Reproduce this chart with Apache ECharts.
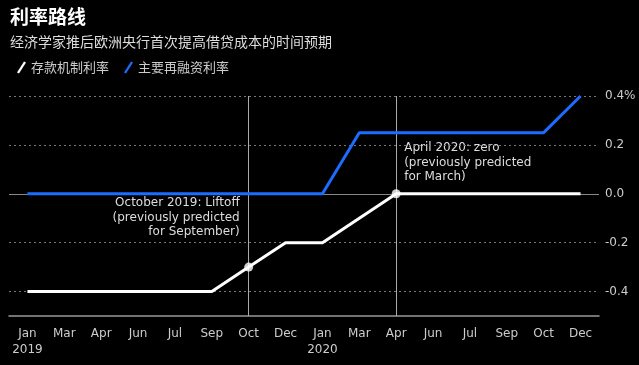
<!DOCTYPE html>
<html>
<head>
<meta charset="utf-8">
<script src="https://cdn.jsdelivr.net/npm/echarts@6/dist/echarts.min.js"></script>
<style>
html,body{margin:0;padding:0;background:#000;}
#c{width:639px;height:365px;}
</style>
</head>
<body>
<div id="c"></div>
<script>
const categories = ['Jan\n2019','Mar','Apr','Jun','Jul','Sep','Oct','Dec','Jan\n2020','Mar','Apr','Jun','Jul','Sep','Oct','Dec'];
const depositRate = [-0.4,-0.4,-0.4,-0.4,-0.4,-0.4,-0.3,-0.2,-0.2,-0.1,0,0,0,0,0,0];
const refiRate = [0,0,0,0,0,0,0,0,0,0.25,0.25,0.25,0.25,0.25,0.25,0.4];
const yTicks = [-0.4,-0.2,0,0.2,0.4];
const highlightIdx = [6,10];
const annoOct = 'October 2019: Liftoff\n(previously predicted\nfor September)';
const annoApr = 'April 2020: zero\n(previously predicted\nfor March)';

const latin = '"DejaVu Sans", "Noto Sans CJK SC", sans-serif';
const cjk = '"Noto Sans CJK SC", sans-serif';

const chart = echarts.init(document.getElementById('c'));
const option = {
  backgroundColor: '#000',
  animation: false,
  title: [
    {text: '利率路线', left: 10, top: 7, padding: 0, textStyle: {color: '#fff', fontSize: 19, fontWeight: 'bold', fontFamily: cjk}},
    {text: '经济学家推后欧洲央行首次提高借贷成本的时间预期', left: 10, top: 35, padding: 0, textStyle: {color: '#ddd', fontSize: 14, fontWeight: 'normal', fontFamily: cjk}}
  ],
  legend: {
    left: 17, top: 61, padding: 0, itemWidth: 9, itemHeight: 12, itemGap: 15,
    textStyle: {color: '#ccc', fontSize: 13, fontFamily: cjk},
    data: [
      {name: '存款机制利率', icon: 'path://M0,11 L7,0 L9,1 L2,12 Z'},
      {name: '主要再融资利率', icon: 'path://M0,11 L7,0 L9,1 L2,12 Z'}
    ]
  },
  grid: {left: 9, right: 40, top: 96, bottom: 49},
  xAxis: {
    type: 'category', data: categories, boundaryGap: true,
    axisLine: {onZero: false, lineStyle: {color: '#999', width: 1.5}},
    axisTick: {alignWithLabel: true, length: 5, lineStyle: {color: '#aaa', width: 1}},
    axisLabel: {color: '#ccc', fontSize: 12, fontFamily: latin, margin: 10, lineHeight: 16, interval: 0, align: 'center'}
  },
  yAxis: {
    type: 'value', position: 'right', min: -0.5, max: 0.4,
    axisLine: {show: false}, axisTick: {show: false},
    axisLabel: {
      customValues: yTicks, color: '#ccc', fontSize: 12, fontFamily: latin, margin: 6,
      formatter: v => (Math.abs(v - 0.4) < 1e-9 ? '0.4%' : v.toFixed(1))
    },
    splitLine: {show: false}
  },
  series: [
    {
      name: '存款机制利率', type: 'line', data: depositRate, color: '#fff',
      symbol: 'none', lineStyle: {color: '#fff', width: 3}, z: 3,
      markLine: {
        silent: true, symbol: 'none', label: {show: false},
        data: [
          ...yTicks.filter(v => v !== 0).map(v => ({yAxis: v, lineStyle: {color: '#777', type: [2, 3], width: 1}})),
          {yAxis: 0, lineStyle: {color: '#888', type: 'solid', width: 1}},
          ...highlightIdx.map(i => ({xAxis: i, lineStyle: {color: '#aaa', type: 'solid', width: 1}}))
        ],
        z: 1
      }
    },
    {
      name: '主要再融资利率', type: 'line', data: refiRate, color: '#1a6dff',
      symbol: 'none', lineStyle: {color: '#1a6dff', width: 3}, z: 2
    },
    {
      type: 'scatter', data: highlightIdx.map(i => [i, depositRate[i]]),
      symbol: 'circle', symbolSize: 9, itemStyle: {color: '#fff'}, z: 4, silent: true
    }
  ],
  graphic: []
};
chart.setOption(option);

function placeAnno() {
  const pO = chart.convertToPixel({xAxisIndex: 0, yAxisIndex: 0}, [6, 0]);
  const pA = chart.convertToPixel({xAxisIndex: 0, yAxisIndex: 0}, [10, 0]);
  chart.setOption({graphic: [
    {type: 'text', x: pO[0] - 9, y: pO[1] + 2, style: {text: annoOct, fill: '#ddd', font: '12px ' + latin, align: 'right', lineHeight: 14.5}},
    {type: 'text', x: pA[0] + 8, y: pA[1] - 53, style: {text: annoApr, fill: '#ddd', font: '12px ' + latin, align: 'left', lineHeight: 14.5}}
  ]});
}
placeAnno();
</script>
</body>
</html>
